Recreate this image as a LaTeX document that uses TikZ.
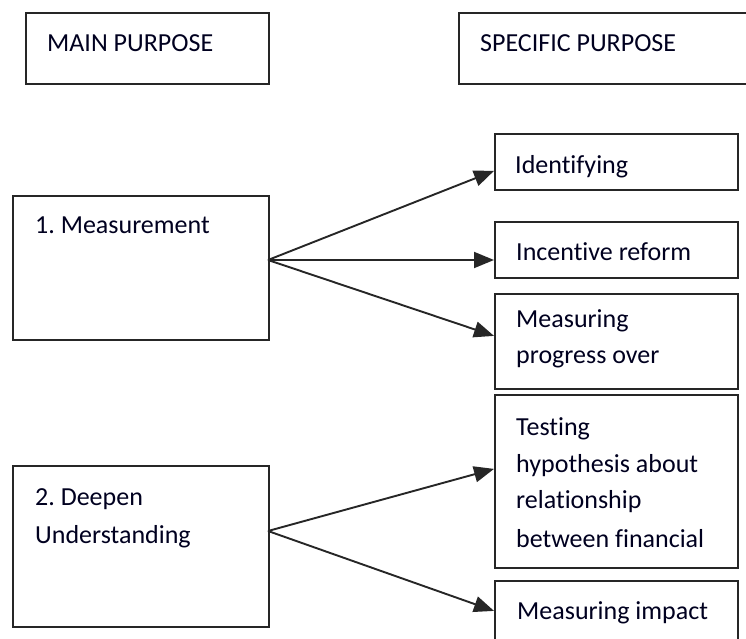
\documentclass[tikz,border=0pt]{standalone}
\usepackage{fontspec}
\setmainfont[Ligatures=NoCommon]{Carlito}
\usetikzlibrary{arrows.meta}
\frenchspacing
\tikzset{
  box/.style={draw=black!85, line width=1.8pt, rectangle, inner sep=0pt, anchor=north west},
  txt/.style={anchor=base west, inner sep=0pt, text=black!88!blue, font=\fontsize{26}{37}\selectfont},
  conn/.style={draw=black!85, line width=1.9pt, -{Triangle[length=20pt,width=16pt]}}
}
\begin{document}
\begin{tikzpicture}[x=1pt,y=-1pt]
\useasboundingbox (0,0) rectangle (746,639);
\clip (0,0) rectangle (746,639);
% boxes
\node[box, minimum width=243pt, minimum height=71pt] (main) at (25,12) {};
\node[box, minimum width=310pt, minimum height=71pt] (spec) at (458,12) {};
\node[box, minimum width=256pt, minimum height=144pt] (meas) at (12,195) {};
\node[box, minimum width=256pt, minimum height=161pt] (deep) at (12,465) {};
\node[box, minimum width=243pt, minimum height=56pt] (ident) at (494,133) {};
\node[box, minimum width=243pt, minimum height=56pt] (incent) at (494,221) {};
\node[box, minimum width=243pt, minimum height=95pt] (prog) at (494,293) {};
\node[box, minimum width=243pt, minimum height=173pt] (test) at (494,394) {};
\node[box, minimum width=243pt, minimum height=80pt] (impact) at (494,580) {};
% texts
\node[txt] (tmain) at (47,52) {MAIN PURPOSE};
\node[txt] (tspec) at (480,52) {SPECIFIC PURPOSE};
\node[txt] (tmeas) at (35,233) {1. Measurement};
\node[txt] (tdeep1) at (35,505) {2. Deepen};
\node[txt] (tdeep2) at (35,543) {Understanding};
\node[txt] (tident) at (515,173) {Identifying};
\node[txt] (tincent) at (516,260) {Incentive reform};
\node[txt] (tprog1) at (516,327) {Measuring};
\node[txt] (tprog2) at (516,363) {progress over};
\node[txt] (ttest1) at (516,435) {Testing};
\node[txt] (ttest2) at (516,472) {hypothesis about};
\node[txt] (ttest3) at (516,508) {relationship};
\node[txt] (ttest4) at (516,547) {between financial};
\node[txt] (timpact) at (517,619) {Measuring impact};
% connectors
\coordinate (m1) at (268,260);
\coordinate (d1) at (268,531);
\draw[conn] (m1) -- ([yshift=-9pt]ident.west);
\draw[conn] (m1) -- (m1 -| incent.west);
\draw[conn] (m1) -- ([yshift=5.5pt]prog.west);
\draw[conn] (d1) -- ([yshift=12.5pt]test.west);
\draw[conn] (d1) -- ([yshift=10pt]impact.west);
\end{tikzpicture}
\end{document}
